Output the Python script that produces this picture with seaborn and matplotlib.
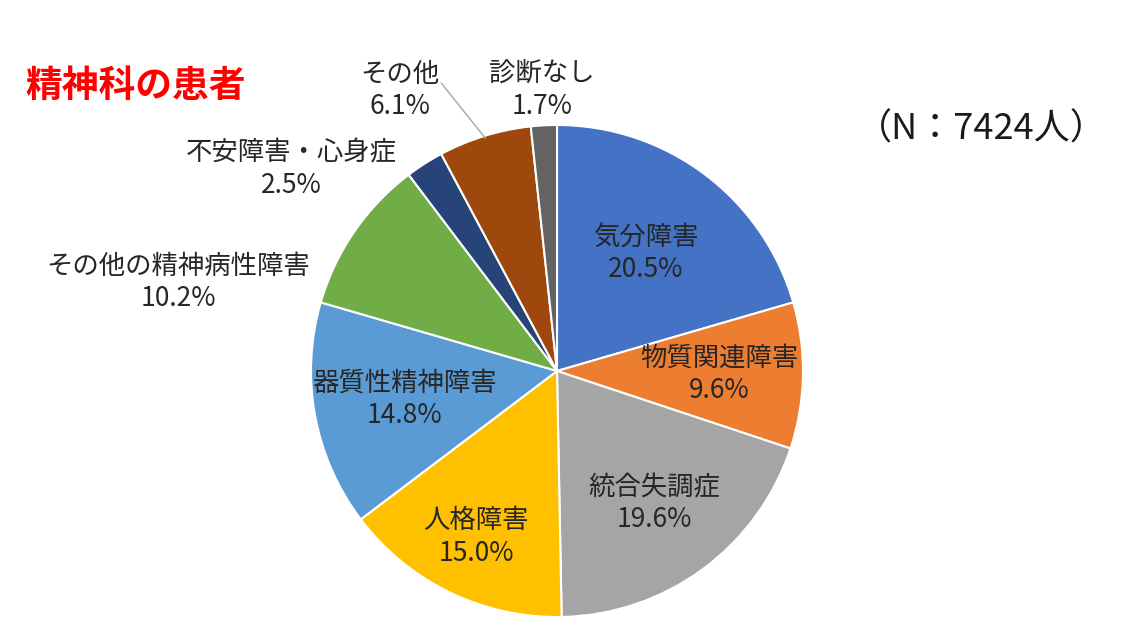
import matplotlib
matplotlib.use("Agg")
import matplotlib.pyplot as plt
import numpy as np
import seaborn as sns

categories = ["気分障害", "物質関連障害", "統合失調症", "人格障害", "器質性精神障害",
              "その他の精神病性障害", "不安障害・心身症", "その他", "診断なし"]
shares = [20.5, 9.6, 19.6, 15.0, 14.8, 10.2, 2.5, 6.1, 1.7]
colors = ["#4472C4", "#ED7D31", "#A5A5A5", "#FFC000", "#5B9BD5",
          "#70AD47", "#264478", "#9E480E", "#636363"]

# labels of the small slices sit outside the pie
label_pos = {
    "その他の精神病性障害": (-1.54, 0.36),
    "不安障害・心身症": (-1.08, 0.82),
    "その他": (-0.64, 1.14),
    "診断なし": (-0.06, 1.14),
}
inside_r = [0.60, 0.66, 0.67, 0.75, 0.63]

sns.set_theme(style="white")
plt.rcParams["font.family"] = ["Noto Sans CJK JP", "DejaVu Sans"]

W, H = 1126, 637
fig = plt.figure(figsize=(W / 100, H / 100), dpi=100)
cx, cy, r = 557, 371, 246
ax = fig.add_axes([(cx - r) / W, (H - cy - r) / H, 2 * r / W, 2 * r / H])

wedges, _ = ax.pie(shares, colors=colors, startangle=90, counterclock=False,
                   radius=1.0, wedgeprops=dict(edgecolor="white", linewidth=1.5))
ax.set_xlim(-1, 1)
ax.set_ylim(-1, 1)
ax.set_aspect("equal")
ax.axis("off")

txt = "#262626"
for i, (w, name, v) in enumerate(zip(wedges, categories, shares)):
    label = f"{name}\n{v:.1f}%"
    if name in label_pos:
        x, y = label_pos[name]
    else:
        ang = np.deg2rad((w.theta1 + w.theta2) / 2)
        x, y = inside_r[i] * np.cos(ang), inside_r[i] * np.sin(ang)
    ax.text(x, y, label, ha="center", va="center", fontsize=19, color=txt,
            linespacing=1.25, clip_on=False)

# leader line for その他
w = wedges[categories.index("その他")]
ang = np.deg2rad((w.theta1 + w.theta2) / 2)
ax.plot([-0.47, 0.99 * np.cos(ang)], [1.17, 0.99 * np.sin(ang)],
        color="#A6A6A6", lw=1, clip_on=False)

fig.text(25 / W, 1 - 86 / H, "精神科の患者", color="#FF0000", fontsize=26.5,
         fontweight="bold", ha="left", va="center")
fig.text(981 / W, 1 - 130 / H, "（N：7424人）", color="#1a1a1a", fontsize=26,
         ha="center", va="center")

fig.savefig("out.png", dpi=100)
